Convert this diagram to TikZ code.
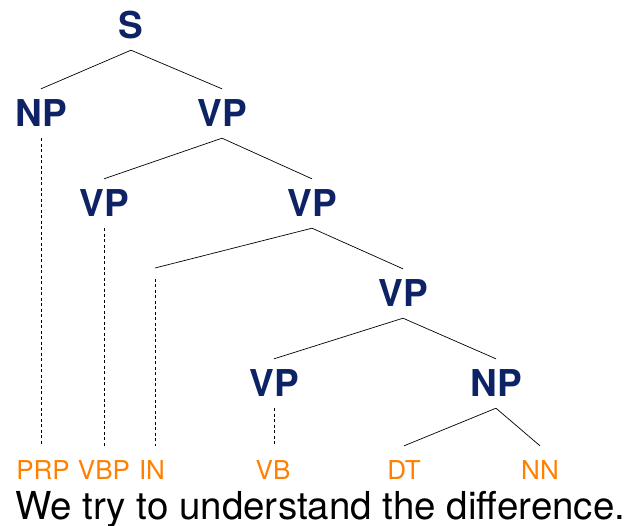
\documentclass[tikz,border=0pt]{standalone}
\usepackage{fontspec}
\setmainfont{TeX Gyre Heros}
\usepackage{xcolor}
\usepackage{tikz}
\usetikzlibrary{positioning,calc}

\definecolor{phrasecol}{RGB}{14,35,102}
\definecolor{tagcol}{RGB}{255,128,0}

\tikzset{
    phrase/.style={anchor=base, text=phrasecol, font=\bfseries\fontsize{37}{40}\selectfont,
        inner xsep=2pt, inner ysep=11pt, text depth=0pt},
    tag/.style={anchor=base, text=tagcol, font=\fontsize{26}{28}\selectfont,
        inner xsep=1pt, inner ysep=14pt, text depth=0pt},
    branch/.style={line width=0.7pt},
    trace/.style={line width=0.7pt, dash pattern=on 3pt off 2.5pt}
}

\begin{document}
\begin{tikzpicture}[x=1pt, y=-1pt]
    \useasboundingbox (0,0) rectangle (624,526);

    % Phrase nodes
    \node[phrase] (s)   at (131,39)  {S};
    \node[phrase] (np1) at (41,127)  {NP};
    \node[phrase] (vp1) at (222,127) {VP};
    \node[phrase] (vp2) at (104,217) {VP};
    \node[phrase] (vp3) at (312,217) {VP};
    \node[phrase] (vp4) at (403,307) {VP};
    \node[phrase] (vp5) at (274,397) {VP};
    \node[phrase] (np2) at (496,397) {NP};
    \coordinate (inend) at (155,268);
    \coordinate (instart) at (155,279);

    % Part-of-speech tags
    \node[tag] (prp) at (43,479)  {PRP};
    \node[tag] (vbp) at (104,479) {VBP};
    \node[tag] (in)  at (152,479) {IN};
    \node[tag] (vb)  at (273,479) {VB};
    \node[tag] (dt)  at (404,479) {DT};
    \node[tag] (nn)  at (540,479) {NN};

    % Sentence
    \node[anchor=base west, inner sep=0pt, font=\fontsize{38.5}{40}\selectfont] (sent) at (15,519)
        {We try to understand the difference.};

    % Branches
    \draw[branch] (s.south) -- (np1.north);
    \draw[branch] (s.south) -- (vp1.north);
    \draw[branch] (vp1.south) -- (vp2.north);
    \draw[branch] (vp1.south) -- (vp3.north);
    \draw[branch] (vp3.south) -- (inend);
    \draw[branch] (vp3.south) -- (vp4.north);
    \draw[branch] (vp4.south) -- (vp5.north);
    \draw[branch] (vp4.south) -- (np2.north);
    \draw[branch] (np2.south) -- (dt.north);
    \draw[branch] (np2.south) -- (nn.north);

    % Traces down to the tags
    \draw[trace] (np1.south) -- (np1.south |- prp.north);
    \draw[trace] (vp2.south) -- (vp2.south |- vbp.north);
    \draw[trace] (instart) -- (instart |- in.north);
    \draw[trace] (vp5.south) -- (vp5.south |- vb.north);
\end{tikzpicture}
\end{document}
